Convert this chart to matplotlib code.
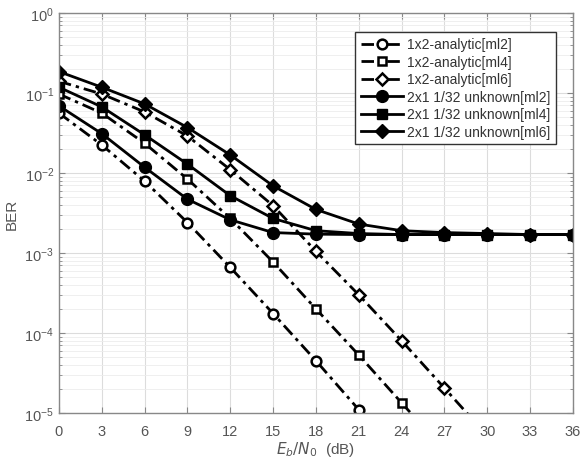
import numpy as np
import matplotlib
matplotlib.use("Agg")
import matplotlib.pyplot as plt
from matplotlib.ticker import LogLocator, NullFormatter, FixedLocator

plt.rcParams["font.family"] = ["Liberation Sans", "DejaVu Sans"]

# --- data ------------------------------------------------------------------
snr_db = [0, 3, 6, 9, 12, 15, 18, 21, 24, 27, 30, 33, 36]

analytic_ml2_x = [0, 3, 6, 9, 12, 15, 18, 21, 24]
analytic_ml2 = [0.056, 0.0224, 0.0079, 0.0024, 6.6e-4, 1.75e-4, 4.5e-5, 1.1e-5, 2.7e-6]

analytic_ml4_x = [0, 3, 6, 9, 12, 15, 18, 21, 24, 27]
analytic_ml4 = [0.097, 0.056, 0.0235, 0.0084, 2.7e-3, 7.7e-4, 2.0e-4, 5.3e-5, 1.34e-5, 3.4e-6]

analytic_ml6_x = [0, 3, 6, 9, 12, 15, 18, 21, 24, 27, 30]
analytic_ml6 = [0.14, 0.097, 0.058, 0.029, 0.011, 0.0039, 1.05e-3, 3.0e-4, 8.0e-5, 2.05e-5, 5.2e-6]

unknown_ml2 = [0.069, 0.031, 0.0118, 0.0047, 0.0026, 0.0018, 0.00172, 0.0017,
               0.0017, 0.0017, 0.0017, 0.0017, 0.0017]
unknown_ml4 = [0.118, 0.067, 0.030, 0.0129, 0.0052, 0.0027, 0.0019, 0.00175,
               0.0017, 0.0017, 0.0017, 0.0017, 0.0017]
unknown_ml6 = [0.185, 0.118, 0.073, 0.037, 0.0168, 0.0069, 0.0035, 0.0023,
               0.0019, 0.0018, 0.00175, 0.0017, 0.0017]

labels = ["1x2-analytic[ml2]", "1x2-analytic[ml4]", "1x2-analytic[ml6]",
          "2x1 1/32 unknown[ml2]", "2x1 1/32 unknown[ml4]", "2x1 1/32 unknown[ml6]"]

# --- figure -------------------------------------------------------------------
fig = plt.figure(figsize=(5.84, 4.6), dpi=100)
ax = fig.add_axes([0.101, 0.10, 0.880, 0.8696])

lw = 2.0
dashdot = (0, (4.5, 1.8, 1.2, 1.8))
ax.plot(analytic_ml2_x, analytic_ml2, ls=dashdot, color="black", lw=lw, marker="o", ms=7,
        mfc="white", mec="black", mew=1.8, label=labels[0])
ax.plot(analytic_ml4_x, analytic_ml4, ls=dashdot, color="black", lw=lw, marker="s", ms=5.5,
        mfc="white", mec="black", mew=1.8, label=labels[1])
ax.plot(analytic_ml6_x, analytic_ml6, ls=dashdot, color="black", lw=lw, marker="D", ms=6.5,
        mfc="white", mec="black", mew=1.8, label=labels[2])
ax.plot(snr_db, unknown_ml2, "-", color="black", lw=lw, marker="o", ms=8.5, label=labels[3])
ax.plot(snr_db, unknown_ml4, "-", color="black", lw=lw, marker="s", ms=6.5, label=labels[4])
ax.plot(snr_db, unknown_ml6, "-", color="black", lw=lw, marker="D", ms=7.5, label=labels[5])

ax.set_yscale("log")
ax.set_xlim(0, 36)
ax.set_ylim(1e-5, 1)
ax.xaxis.set_major_locator(FixedLocator(snr_db))
ax.yaxis.set_major_locator(LogLocator(base=10.0, subs=(1.0,), numticks=10))
ax.yaxis.set_minor_locator(LogLocator(base=10.0, subs=tuple(range(2, 10)), numticks=50))
ax.yaxis.set_minor_formatter(NullFormatter())

grey = "#555555"
for s in ax.spines.values():
    s.set_color("#888888")
    s.set_linewidth(1.0)
ax.tick_params(which="both", direction="in", top=True, right=True, colors="#888888",
               labelcolor=grey, labelsize=10.5)
ax.tick_params(axis="x", pad=8)
ax.tick_params(which="major", length=4)
ax.tick_params(which="minor", length=2)
ax.grid(which="major", color="#dcdcdc", lw=0.8)
ax.grid(which="minor", color="#ececec", lw=0.6)
ax.set_axisbelow(True)

ax.set_ylabel("BER", color=grey, fontsize=11, labelpad=4)
ax.set_xlabel(r"$E_b/N_0$  (dB)", color=grey, fontsize=11, labelpad=1)

leg = ax.legend(loc="upper right", bbox_to_anchor=(0.98, 0.97), fontsize=10,
                frameon=True, fancybox=False, framealpha=1, edgecolor="#333333",
                handlelength=3.0, handletextpad=0.3, borderpad=0.4, labelspacing=0.25)
leg.get_frame().set_linewidth(1.0)
for t in leg.get_texts():
    t.set_color("#333333")

fig.savefig("out.png", dpi=100)
